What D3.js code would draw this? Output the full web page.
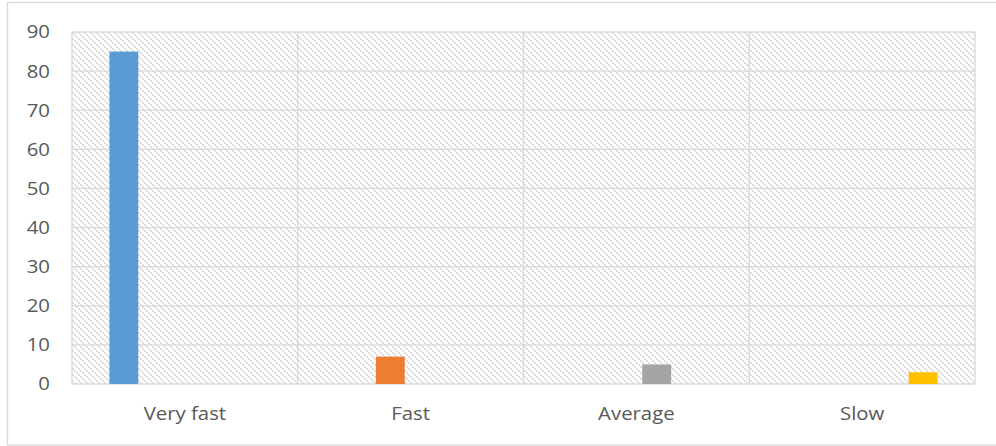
<!DOCTYPE html>
<html>
<head>
<meta charset="utf-8">
<script src="https://cdn.jsdelivr.net/npm/d3@7"></script>
<style>
  html, body { margin: 0; padding: 0; background: #fff; }
  svg { display: block; }
  text { font-family: "Open Sans", "Liberation Sans", sans-serif; fill: #595959; }
</style>
</head>
<body>
<svg id="chart" width="996" height="446"></svg>
<script>
// Response speed categories and the four series (one bar per category)
const categories = ["Very fast", "Fast", "Average", "Slow"];
const seriesNames = ["Very fast", "Fast", "Average", "Slow"];
const seriesColors = ["#5B9BD5", "#ED7D31", "#A5A5A5", "#FFC000"];
const veryFastValues = [85, null, null, null];
const fastValues = [null, 7, null, null];
const averageValues = [null, null, 5, null];
const slowValues = [null, null, null, 3];
const yTicks = [0, 10, 20, 30, 40, 50, 60, 70, 80, 90];

const seriesValues = [veryFastValues, fastValues, averageValues, slowValues];

const svg = d3.select("#chart");
const W = 996, H = 446;
const margin = { left: 72, right: 21, top: 32, bottom: 62 };
const plotW = W - margin.left - margin.right;
const plotH = H - margin.top - margin.bottom;
const gridColor = "#d9d9d9";
const fontSize = 18.5;
const textStretch = 1.1;

// Outer chart frame
svg.append("rect")
  .attr("x", 7.5).attr("y", 2.5)
  .attr("width", 996).attr("height", 442.5)
  .attr("fill", "#fff")
  .attr("stroke", gridColor).attr("stroke-width", 1.3);

// Hatched plot-area fill
const defs = svg.append("defs");
const pat = defs.append("pattern")
  .attr("id", "hatch")
  .attr("patternUnits", "userSpaceOnUse")
  .attr("width", 6).attr("height", 6);
pat.append("rect").attr("width", 6).attr("height", 6).attr("fill", "#fff");
[0, 2, 4].forEach(o => {
  pat.append("rect").attr("x", o).attr("y", o).attr("width", 2).attr("height", 2).attr("fill", "#dedede");
});

const g = svg.append("g").attr("transform", `translate(${margin.left},${margin.top})`);

const x0 = d3.scaleBand().domain(categories).range([0, plotW]).padding(0);
const x1 = d3.scaleBand().domain(seriesNames).range([0, x0.bandwidth()])
  .paddingInner(0.29).paddingOuter(0.92);
const y = d3.scaleLinear().domain([0, 90]).range([plotH, 0]);

g.append("rect")
  .attr("width", plotW).attr("height", plotH)
  .attr("fill", "url(#hatch)");

// Horizontal gridlines
g.append("g").selectAll("line").data(yTicks).join("line")
  .attr("x1", 0).attr("x2", plotW)
  .attr("y1", d => y(d)).attr("y2", d => y(d))
  .attr("stroke", gridColor).attr("stroke-width", 1.3);

// Vertical category separators and plot edges
const seps = categories.map(c => x0(c)).concat([plotW]);
g.append("g").selectAll("line").data(seps).join("line")
  .attr("x1", d => d).attr("x2", d => d)
  .attr("y1", 0).attr("y2", plotH)
  .attr("stroke", gridColor).attr("stroke-width", 1.3);

// Bars
seriesValues.forEach((vals, si) => {
  g.append("g").selectAll("rect")
    .data(categories.map((c, ci) => ({ c, v: vals[ci] })).filter(d => d.v != null))
    .join("rect")
    .attr("x", d => x0(d.c) + x1(seriesNames[si]))
    .attr("width", x1.bandwidth())
    .attr("y", d => y(d.v))
    .attr("height", d => y(0) - y(d.v))
    .attr("fill", seriesColors[si]);
});

// Widen axis labels horizontally around their anchor point
function styleLabels(sel) {
  sel.each(function () {
    const t = d3.select(this);
    const tx = +t.attr("x") || 0;
    t.attr("x", 0)
      .attr("transform", `translate(${tx},0) scale(${textStretch},1)`)
      .attr("font-size", fontSize)
      .style("font-family", null);
  });
}

// Y axis labels
const yAxis = d3.axisLeft(y).tickValues(yTicks).tickSize(0).tickPadding(22);
const ya = g.append("g").call(yAxis);
ya.select(".domain").remove();
ya.selectAll("text").call(styleLabels);

// X axis labels
const xAxis = d3.axisBottom(x0).tickSize(0).tickPadding(23);
const xa = g.append("g").attr("transform", `translate(0,${plotH})`).call(xAxis);
xa.select(".domain").remove();
xa.selectAll("text").call(styleLabels);
</script>
</body>
</html>
